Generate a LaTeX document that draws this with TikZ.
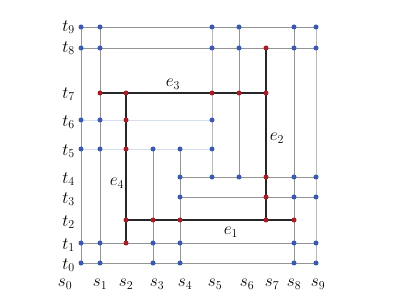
\documentclass[tikz,border=0pt]{standalone}
\usepackage{tikz}
\begin{document}
\begin{tikzpicture}[x=1pt,y=-1pt,
  gridline/.style={draw=black!42,line width=0.9pt},
  paleline/.style={draw=black!28,line width=0.9pt},
  faintline/.style={draw=faint,line width=0.9pt},
  edgeline/.style={draw=black!85,line width=1.3pt},
  bdot/.style={circle,fill=dotblue,inner sep=0pt,minimum size=5pt},
  rdot/.style={circle,fill=dotred,inner sep=0pt,minimum size=5pt},
  lab/.style={inner sep=0pt,font=\fontsize{18}{20}\selectfont}]
\definecolor{dotblue}{RGB}{58,90,176}
\definecolor{dotred}{RGB}{165,30,40}
\definecolor{faint}{RGB}{215,222,240}
\useasboundingbox (0,0) rectangle (415,294);
% columns and rows
\def\sx{{81,100,126,153,180,212,239,266,294,316}}
\def\ty{{263,243,220,197,177,149,120,93,48,27}}
\foreach \i in {0,...,9}{
  \foreach \j in {0,...,9}{
    \pgfmathsetmacro{\xx}{\sx[\i]}
    \pgfmathsetmacro{\yy}{\ty[\j]}
    \coordinate (p\i-\j) at (\xx,\yy);
  }
}
% horizontal lines
\draw[gridline] (p0-9) -- (p9-9);
\draw[gridline] (p0-8) -- (p9-8);
\draw[faintline] (p0-6) -- (p5-6);
\draw[faintline] (p0-5) -- (p5-5);
\draw[gridline] (p4-4) -- (p9-4);
\draw[gridline] (p4-3) -- (p9-3);
\draw[gridline] (p0-1) -- (p9-1);
\draw[gridline] (p0-0) -- (p9-0);
% vertical lines
\draw[gridline] (p0-0) -- (p0-9);
\draw[gridline] (p1-0) -- (p1-9);
\draw[gridline] (p3-0) -- (p3-5);
\draw[gridline] (p4-0) -- (p4-5);
\draw[paleline] (p5-4) -- (p5-9);
\draw[gridline] (p6-4) -- (p6-9);
\draw[gridline] (p8-0) -- (p8-9);
\draw[paleline] (p9-0) -- (p9-9);
% edges
\draw[edgeline] (p1-7) -- (p7-7);
\draw[edgeline] (p7-8) -- (p7-2);
\draw[edgeline] (p2-2) -- (p8-2);
\draw[edgeline] (p2-1) -- (p2-7);
% dots
\foreach \i/\j in {0/9,1/9,5/9,6/9,8/9,9/9,
                   0/8,1/8,5/8,6/8,8/8,9/8,
                   0/6,1/6,5/6,
                   0/5,1/5,3/5,4/5,5/5,
                   4/4,5/4,6/4,8/4,9/4,
                   4/3,8/3,9/3,
                   0/1,1/1,3/1,4/1,8/1,9/1,
                   0/0,1/0,3/0,4/0,8/0,9/0}
  \node[bdot] (d\i-\j) at (p\i-\j) {};
\foreach \i/\j in {7/8,1/7,2/7,5/7,6/7,7/7,2/6,2/5,7/4,7/3,
                   2/2,3/2,4/2,7/2,8/2,2/1}
  \node[rdot] (d\i-\j) at (p\i-\j) {};
% row labels
\foreach \j/\yy in {9/27,8/48,7/94,6/122,5/151,4/179,3/199,2/222,1/245,0/265}
  \node[lab,anchor=east] (t\j) at (75,\yy) {$t_{\j}$};
% column labels
\foreach \i/\xx in {0/65,1/100,2/126,3/157,4/185,5/215,6/247,7/272,8/294,9/318}
  \node[lab] (s\i) at (\xx,284) {$s_{\i}$};
% edge labels
\node[lab] (e3) at (173,84) {$e_3$};
\node[lab] (e2) at (277,138) {$e_2$};
\node[lab] (e4) at (117,183) {$e_4$};
\node[lab] (e1) at (231,232) {$e_1$};
\end{tikzpicture}
\end{document}
